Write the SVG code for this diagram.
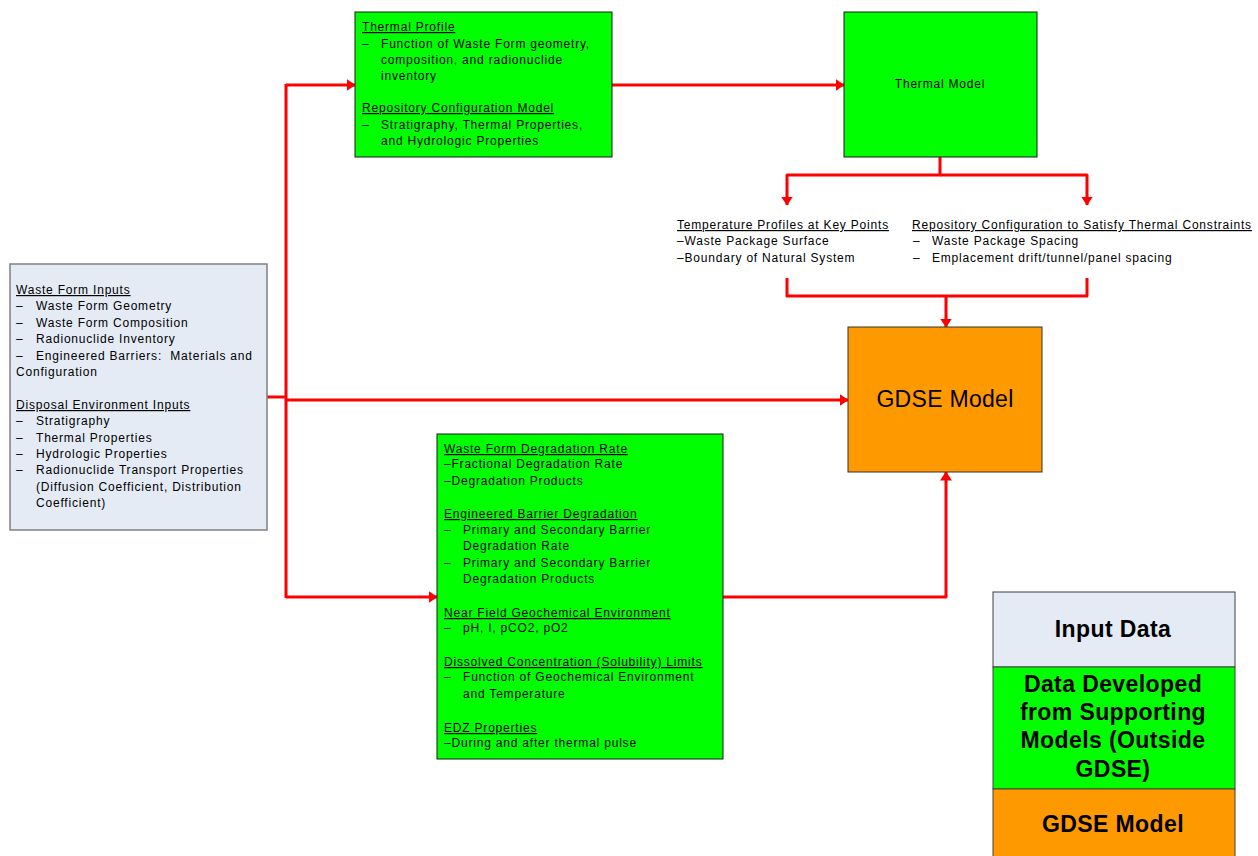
<svg xmlns="http://www.w3.org/2000/svg" width="1258" height="856" viewBox="0 0 1258 856">
<style>
.t{font-family:"Liberation Sans",Arial,sans-serif;font-size:12px;letter-spacing:0.8px;fill:#000}
.u{text-decoration:underline}
.big{font-family:"Liberation Sans",Arial,sans-serif;font-size:23px;letter-spacing:0.3px;fill:#000;text-anchor:middle}
.leg{font-family:"Liberation Sans",Arial,sans-serif;font-size:23px;font-weight:bold;letter-spacing:0.4px;fill:#000;text-anchor:middle}
.input{fill:#E5EBF5;stroke:#808080;stroke-width:1.5}
.green{fill:#00FF00;stroke:#1a1a1a;stroke-width:1}
.orange{fill:#FF9900;stroke:#333;stroke-width:1}
.c{fill:none;stroke:#FF0000;stroke-width:3;stroke-linejoin:round}
.a{marker-end:url(#ah)}
</style>
<defs>
<marker id="ah" markerUnits="userSpaceOnUse" markerWidth="9" markerHeight="12" viewBox="0 0 9 12" refX="8.5" refY="6" orient="auto">
<path d="M0,0 L9,6 L0,12 z" fill="#FF0000"/>
</marker>
</defs>
<rect width="1258" height="856" fill="#fff"/>

<g id="connectors">
<path class="c" d="M265,397 H287"/>
<path class="c" d="M286,598 V84"/>
<path class="c a" d="M286,85 H355"/>
<path class="c a" d="M286,400 H848"/>
<path class="c a" d="M286,597 H437"/>
<path class="c a" d="M612,85 H844"/>
<path class="c a" d="M940,157 V175 H787 V205"/>
<path class="c a" d="M940,175 H1087 V205"/>
<path class="c" d="M787,278 V296 H1087 V278"/>
<path class="c a" d="M946,296 V327"/>
<path class="c a" d="M723,597 H946 V472"/>
</g>

<g id="inputs">
<rect class="input" x="10" y="264" width="257" height="266"/>
<text class="t u" x="16" y="294">Waste Form Inputs</text>
<text class="t" x="16" y="310">–</text><text class="t" x="36" y="310">Waste Form Geometry</text>
<text class="t" x="16" y="327">–</text><text class="t" x="36" y="327">Waste Form Composition</text>
<text class="t" x="16" y="343">–</text><text class="t" x="36" y="343">Radionuclide Inventory</text>
<text class="t" x="16" y="360">–</text><text class="t" x="36" y="360">Engineered Barriers:&#160; Materials and</text>
<text class="t" x="16" y="376">Configuration</text>
<text class="t u" x="16" y="409">Disposal Environment Inputs</text>
<text class="t" x="16" y="425">–</text><text class="t" x="36" y="425">Stratigraphy</text>
<text class="t" x="16" y="442">–</text><text class="t" x="36" y="442">Thermal Properties</text>
<text class="t" x="16" y="458">–</text><text class="t" x="36" y="458">Hydrologic Properties</text>
<text class="t" x="16" y="474">–</text><text class="t" x="36" y="474">Radionuclide Transport Properties</text>
<text class="t" x="36" y="491">(Diffusion Coefficient, Distribution</text>
<text class="t" x="36" y="507">Coefficient)</text>
</g>

<g id="thermal-profile">
<rect class="green" x="355" y="12" width="257" height="145"/>
<text class="t u" x="362" y="31">Thermal Profile</text>
<text class="t" x="362" y="48">–</text><text class="t" x="381" y="48">Function of Waste Form geometry,</text>
<text class="t" x="381" y="64">composition, and radionuclide</text>
<text class="t" x="381" y="80">inventory</text>
<text class="t u" x="362" y="112">Repository Configuration Model</text>
<text class="t" x="362" y="129">–</text><text class="t" x="381" y="129">Stratigraphy, Thermal Properties,</text>
<text class="t" x="381" y="145">and Hydrologic Properties</text>
</g>

<g id="thermal-model">
<rect class="green" x="844" y="12" width="193" height="145"/>
<text class="t" x="940" y="88" text-anchor="middle">Thermal Model</text>
</g>

<g id="temperature-profiles">
<text class="t u" x="677" y="229">Temperature Profiles at Key Points</text>
<text class="t" x="677" y="245">–Waste Package Surface</text>
<text class="t" x="677" y="262">–Boundary of Natural System</text>
</g>

<g id="repository-configuration">
<text class="t u" x="912" y="229">Repository Configuration to Satisfy Thermal Constraints</text>
<text class="t" x="913" y="245">–</text><text class="t" x="932" y="245">Waste Package Spacing</text>
<text class="t" x="913" y="262">–</text><text class="t" x="932" y="262">Emplacement drift/tunnel/panel spacing</text>
</g>

<g id="gdse-model">
<rect class="orange" x="848" y="327" width="194" height="145"/>
<text class="big" x="945" y="407">GDSE Model</text>
</g>

<g id="degradation">
<rect class="green" x="437" y="434" width="286" height="325"/>
<text class="t u" x="444" y="453">Waste Form Degradation Rate</text>
<text class="t" x="444" y="468">–Fractional Degradation Rate</text>
<text class="t" x="444" y="485">–Degradation Products</text>
<text class="t u" x="444" y="518">Engineered Barrier Degradation</text>
<text class="t" x="444" y="534">–</text><text class="t" x="463" y="534">Primary and Secondary Barrier</text>
<text class="t" x="463" y="550">Degradation Rate</text>
<text class="t" x="444" y="567">–</text><text class="t" x="463" y="567">Primary and Secondary Barrier</text>
<text class="t" x="463" y="583">Degradation Products</text>
<text class="t u" x="444" y="617">Near Field Geochemical Environment</text>
<text class="t" x="444" y="632">–</text><text class="t" x="463" y="632">pH, I, pCO2, pO2</text>
<text class="t u" x="444" y="666">Dissolved Concentration (Solubility) Limits</text>
<text class="t" x="444" y="681">–</text><text class="t" x="463" y="681">Function of Geochemical Environment</text>
<text class="t" x="463" y="698">and Temperature</text>
<text class="t u" x="444" y="732">EDZ Properties</text>
<text class="t" x="444" y="747">–During and after thermal pulse</text>
</g>

<g id="legend">
<rect x="993" y="592" width="242" height="75" fill="#E5EBF5" stroke="#404040" stroke-width="1"/>
<rect x="993" y="667" width="242" height="122" fill="#00FF00" stroke="#404040" stroke-width="1"/>
<rect x="993" y="789" width="242" height="80" fill="#FF9900" stroke="#404040" stroke-width="1"/>
<text class="leg" x="1113" y="637">Input Data</text>
<text class="leg" x="1113" y="692">Data Developed</text>
<text class="leg" x="1113" y="720">from Supporting</text>
<text class="leg" x="1113" y="748">Models (Outside</text>
<text class="leg" x="1113" y="777">GDSE)</text>
<text class="leg" x="1113" y="832">GDSE Model</text>
</g>
</svg>
